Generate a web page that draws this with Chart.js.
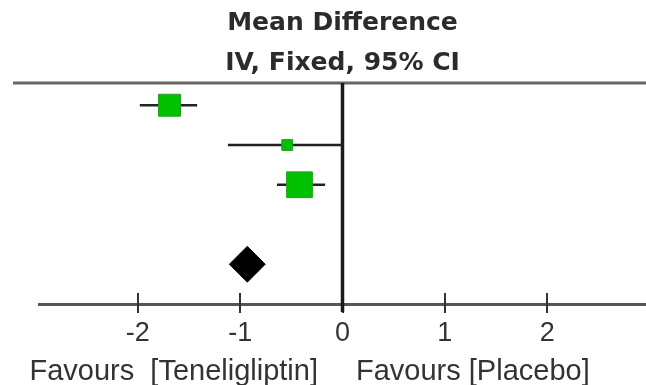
<!DOCTYPE html>
<html><head><meta charset="utf-8">
<script src="https://cdn.jsdelivr.net/npm/chart.js@4/dist/chart.umd.min.js"></script>
<style>html,body{margin:0;padding:0;background:#fff;overflow:hidden}canvas{display:block}</style>
</head><body><canvas id="c" width="646" height="385"></canvas>
<script>
// ---- data ----
const studyRows = [1, 2, 3];
const studyMeans = [-1.69, -0.54, -0.42];
const studyLows = [-1.98, -1.12, -0.64];
const studyHighs = [-1.42, 0.00, -0.17];
const studyWeights = [38.2, 9.3, 52.5];
const pooledRow = 5;
const pooledMean = -0.93;
const pooledLow = -1.11;
const pooledHigh = -0.76;
const xTicks = [-2, -1, 0, 1, 2];
const titleLines = ['Mean Difference', 'IV, Fixed, 95% CI'];
const favourLeft = 'Favours  [Teneligliptin]';
const favourRight = 'Favours [Placebo]';

// ---- datasets ----
const squareData = studyMeans.map((m, i) => ({x: m, y: studyRows[i]}));
const ciDatasets = studyMeans.map((m, i) => ({
  type: 'line',
  data: [{x: studyLows[i], y: studyRows[i]}, {x: studyHighs[i], y: studyRows[i]}],
  borderColor: '#222',
  borderWidth: 2.5,
  pointRadius: 0,
  fill: false,
  clip: false,
  order: 3
}));

const decor = {
  id: 'decor',
  beforeDatasetsDraw(chart) {
    const {ctx, chartArea: a, scales: {x}} = chart;
    ctx.save();
    // top rule
    ctx.strokeStyle = '#666';
    ctx.lineWidth = 3;
    ctx.beginPath();
    ctx.moveTo(a.left - 26, a.top);
    ctx.lineTo(a.right, a.top);
    ctx.stroke();
    // tick marks crossing axis
    ctx.strokeStyle = '#333';
    ctx.lineWidth = 2;
    xTicks.forEach(v => {
      const px = Math.round(x.getPixelForValue(v));
      ctx.beginPath();
      ctx.moveTo(px, a.bottom - 11);
      ctx.lineTo(px, a.bottom + 9);
      ctx.stroke();
    });
    // zero line
    const z = x.getPixelForValue(0);
    ctx.strokeStyle = '#1a1a1a';
    ctx.lineWidth = 3.5;
    ctx.beginPath();
    ctx.moveTo(z, a.top);
    ctx.lineTo(z, a.bottom + 8);
    ctx.stroke();
    ctx.restore();
  },
  afterDraw(chart) {
    const {ctx, scales: {x}} = chart;
    const z = x.getPixelForValue(0);
    ctx.save();
    ctx.fillStyle = '#333';
    ctx.font = '29px "Liberation Sans", Arial, sans-serif';
    ctx.textBaseline = 'alphabetic';
    ctx.textAlign = 'right';
    ctx.fillText(favourLeft, z - 24.5, 380);
    ctx.textAlign = 'left';
    ctx.fillText(favourRight, z + 13.5, 380);
    ctx.restore();
  }
};

new Chart(document.getElementById('c'), {
  type: 'scatter',
  data: {
    datasets: [
      {
        data: squareData,
        pointStyle: 'rect',
        pointRadius: ctx => 3.55 * Math.sqrt(studyWeights[ctx.dataIndex]) / Math.SQRT2,
        pointHoverRadius: ctx => 3.55 * Math.sqrt(studyWeights[ctx.dataIndex]) / Math.SQRT2,
        backgroundColor: '#00C000',
        borderColor: '#1f9f1f',
        borderWidth: 1,
        clip: false,
        order: 1
      },
      {
        data: [{x: pooledMean, y: pooledRow}],
        pointStyle: 'rectRot',
        pointRadius: ctx => {
          const xs = ctx.chart.scales.x;
          if (!xs) return 18;
          return (xs.getPixelForValue(pooledHigh) - xs.getPixelForValue(pooledLow)) / 2;
        },
        backgroundColor: '#000',
        borderColor: '#000',
        borderWidth: 1,
        clip: false,
        order: 2
      },
      ...ciDatasets
    ]
  },
  options: {
    responsive: false,
    animation: false,
    events: [],
    layout: {autoPadding: false, padding: {left: 39, right: 0, top: 0, bottom: 0}},
    plugins: {
      legend: {display: false},
      tooltip: {enabled: false},
      title: {
        display: true,
        text: titleLines,
        color: '#2b2b2b',
        font: {family: '"DejaVu Sans", sans-serif', size: 25, weight: 'bold', lineHeight: 1.6},
        padding: {top: 3, bottom: 0}
      }
    },
    scales: {
      x: {
        type: 'linear',
        min: -2.965,
        max: 2.965,
        afterBuildTicks: s => { s.ticks = xTicks.map(v => ({value: v})); },
        afterFit: s => { s.height = 81; s.paddingLeft = 0; s.paddingRight = 0; },
        ticks: {
          color: '#333',
          font: {family: '"Liberation Sans", Arial, sans-serif', size: 27},
          padding: 13,
          maxRotation: 0,
          callback: v => String(v)
        },
        grid: {display: true, drawOnChartArea: false, drawTicks: false},
        border: {display: true, color: '#555', width: 3}
      },
      y: {
        type: 'linear',
        display: false,
        reverse: true,
        min: 0.44,
        max: 6.0
      }
    }
  },
  plugins: [decor]
});
</script>
</body></html>
